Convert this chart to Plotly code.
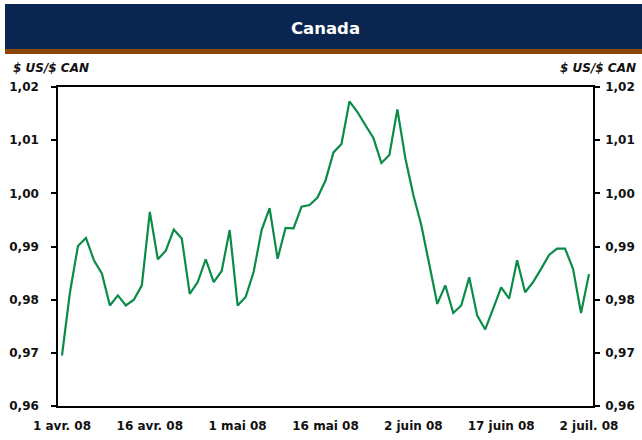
import plotly.graph_objects as go
import pandas as pd

dates = pd.bdate_range("2008-04-01", "2008-07-02")
values = [
    0.9695, 0.9814, 0.9901, 0.9916, 0.9874, 0.9849, 0.9789, 0.9808, 0.9789, 0.9800,
    0.9827, 0.9965, 0.9876, 0.9892, 0.9932, 0.9915, 0.9811, 0.9833, 0.9876, 0.9833,
    0.9854, 0.9931, 0.9789, 0.9805, 0.9852, 0.9931, 0.9972, 0.9877, 0.9935, 0.9934,
    0.9975, 0.9978, 0.9992, 1.0024, 1.0077, 1.0093, 1.0173, 1.0153, 1.0128, 1.0104,
    1.0057, 1.0072, 1.0158, 1.0066, 0.9997, 0.9940, 0.9866, 0.9792, 0.9827, 0.9775,
    0.9789, 0.9842, 0.9770, 0.9744, 0.9783, 0.9823, 0.9802, 0.9874, 0.9814, 0.9833,
    0.9858, 0.9884, 0.9896, 0.9896, 0.9858, 0.9775, 0.9848,
]
tick_dates = ["2008-04-01", "2008-04-16", "2008-05-01", "2008-05-16",
              "2008-06-02", "2008-06-17", "2008-07-02"]
tick_labels = ["1 avr. 08", "16 avr. 08", "1 mai 08", "16 mai 08",
               "2 juin 08", "17 juin 08", "2 juil. 08"]
y_ticks = [0.96, 0.97, 0.98, 0.99, 1.00, 1.01, 1.02]
title = "Canada"
unit = "$ US/$ CAN"

idx = list(range(len(values)))
date_strs = [d.strftime("%Y-%m-%d") for d in dates]
tick_idx = [date_strs.index(t) for t in tick_dates]

FONT = "DejaVu Sans, Arial, sans-serif"
W, H = 642, 440
L, R, T, B = 58, 49, 87, 34
pw, ph = W - L - R, H - T - B

def px(x):
    return (x - L) / pw

def py(y):
    return (H - B - y) / ph

fig = go.Figure()
fig.add_trace(go.Scatter(x=idx, y=values, mode="lines",
                         line=dict(color="#0a8c48", width=2.2),
                         hoverinfo="skip", showlegend=False))
fig.add_trace(go.Scatter(x=idx, y=values, mode="lines", yaxis="y2",
                         line=dict(color="rgba(0,0,0,0)", width=0),
                         hoverinfo="skip", showlegend=False))

tickfont = dict(family=FONT, size=12, color="#111111", weight="bold")
yax = dict(range=[0.96, 1.02], tickvals=y_ticks, tickformat=".2f",
           showgrid=False, zeroline=False, showline=True, linecolor="black",
           linewidth=1.5, ticks="outside", ticklen=5, tickwidth=1.5,
           tickcolor="black", tickfont=tickfont, automargin=False)

fig.update_layout(
    width=W, height=H,
    margin=dict(l=L, r=R, t=T, b=B),
    paper_bgcolor="white", plot_bgcolor="white",
    separators=", ",
    xaxis=dict(range=[-0.5, len(values) - 0.5], tickvals=tick_idx,
               ticktext=tick_labels, showgrid=False, zeroline=False,
               showline=True, mirror=True, linecolor="black", linewidth=1.5,
               ticks="", tickfont=tickfont, ticklabelstandoff=8,
               automargin=False),
    yaxis=dict(yax, ticklabelstandoff=10),
    yaxis2=dict(yax, overlaying="y", side="right", ticklabelstandoff=3),
    shapes=[
        dict(type="rect", xref="paper", yref="paper", x0=px(5), x1=px(642),
             y0=py(49), y1=py(4), fillcolor="#0a2550", line=dict(width=0),
             layer="above"),
        dict(type="rect", xref="paper", yref="paper", x0=px(5), x1=px(642),
             y0=py(54), y1=py(49), fillcolor="#8a4508", line=dict(width=0),
             layer="above"),
    ],
    annotations=[
        dict(text=title, xref="paper", yref="paper", x=px(325), y=py(29),
             showarrow=False, xanchor="center", yanchor="middle",
             font=dict(family=FONT, size=16.5, color="white", weight="bold")),
        dict(text="<i>" + unit + "</i>", xref="paper", yref="paper", x=px(11),
             y=py(68), showarrow=False, xanchor="left", yanchor="middle",
             font=dict(family=FONT, size=12, color="#111111", weight="bold")),
        dict(text="<i>" + unit + "</i>", xref="paper", yref="paper", x=px(638),
             y=py(68), showarrow=False, xanchor="right", yanchor="middle",
             font=dict(family=FONT, size=12, color="#111111", weight="bold")),
    ],
)

fig.write_html("out.html", config={"displayModeBar": False},
               post_script="document.body.style.margin='0';")
